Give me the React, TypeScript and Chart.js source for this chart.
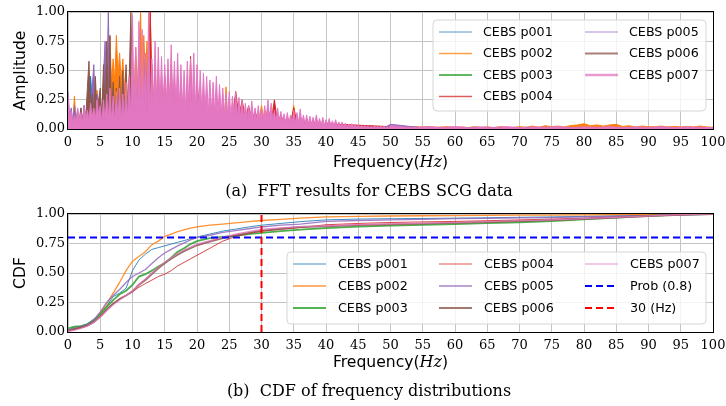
import React, { useEffect, useRef } from "react";
import { Chart, registerables } from "chart.js";
Chart.register(...registerables);

// ---------- shared ----------
const seriesLabels = ["CEBS p001", "CEBS p002", "CEBS p003", "CEBS p004", "CEBS p005", "CEBS p006", "CEBS p007"];
const seriesColors = ["#1f77b4", "#ff7f0e", "#2ca02c", "#d62728", "#9467bd", "#8c564b", "#e377c2"];
const xTicksStep = 5;
const yTicksStep = 0.25;

// ---------- FFT amplitudes (segments: start Hz, step Hz, values) ----------
const p001Head = [0.08,0.03,0.06,0.02,0.08,0.03,0.10,0.45,0.05,0.12, 0.04,0.10,0.04,0.08,0.03,0.06,0.02,0.05,0.02,0.06, 0.03,0.05,0.02,0.06,0.03,0.05,0.02,0.04,0.02,0.05, 0.02, 0.04,0.02,0.04,0.015,0.035,0.015,0.03,0.015,0.03,0.012, 0.03,0.012,0.025,0.01,0.025,0.01,0.02,0.01,0.02,0.01, 0.02,0.01,0.015,0.01,0.015,0.01,0.015,0.01,0.012,0.01];
const p001Tail = [0.01,0.008,0.01,0.008,0.01,0.008,0.01,0.008,0.01,0.008,0.01,0.008,0.01,0.008];

const p002Head = [
  0.10,0.04,0.12,0.05, 0.28,0.06,0.15,0.05, 0.12,0.05,0.18,0.06, 0.20,0.07,0.25,0.10, 0.22,0.08,0.33,0.12,
  0.25,0.12,0.40,0.20, 0.55,0.30,0.79,0.40, 0.60,0.40,0.80,0.45, 0.65,0.40,0.60,0.35, 0.50,0.25,0.45,0.30,
  0.60,0.30,0.70,0.35, 0.65,1.00,0.40,0.80, 0.45,0.75,0.35,1.00, 0.45,0.25,0.55,0.20, 0.50,0.20,0.45,0.18,
  0.42,0.18,0.38,0.15, 0.35,0.15,0.40,0.14, 0.30,0.12,0.35,0.12, 0.28,0.10,0.30,0.10, 0.32,0.10,0.25,0.10,
  0.25,0.08,0.28,0.08, 0.30,0.08,0.22,0.07, 0.20,0.07,0.25,0.07, 0.18,0.06,0.20,0.06, 0.15,0.06,0.36,0.06,
  0.15];
const p002Mid = [0.05,0.12,0.05,0.18,0.04,0.10,0.04,0.15,0.04,0.20, 0.04,0.10,0.03,0.12,0.03,0.08,0.03,0.10,0.03,0.20, 0.03,0.09,0.03,0.07,0.02,0.08,0.02,0.06,0.02,0.05];
const p002Tail = [0.04,0.02,0.035,0.02,0.03, 0.018,0.025,0.015,0.02,0.015, 0.015,0.02,0.012,0.018,0.015, 0.02,0.012,0.018,0.02,0.013, 0.018,0.012,0.02,0.013,0.018, 0.012,0.02,0.015,0.013,0.02, 0.015,0.025,0.015,0.028,0.02, 0.025,0.018,0.03,0.035,0.045, 0.028,0.035,0.025,0.035,0.04, 0.022,0.028,0.018,0.025,0.02, 0.02,0.025,0.018,0.022,0.018, 0.022,0.018,0.025,0.018,0.015];

const p003Head = [0.05,0.02,0.06,0.02,0.07,0.03,0.08,0.03,0.10,0.04, 0.10,0.04,0.12,0.04,0.10,0.04,0.09,0.03,0.08,0.03, 0.10,0.04,0.12,0.04,0.10,0.03,0.09,0.03,0.08,0.03, 0.07,0.03,0.06,0.02,0.06,0.02,0.05,0.02,0.05,0.02, 0.04,0.02,0.04,0.015,0.035,0.015,0.03,0.015,0.03,0.012, 0.025,0.012,0.025,0.01,0.02,0.01,0.02,0.01,0.02,0.01, 0.015];
const p003Tail = [0.01,0.008,0.01,0.008,0.01,0.008,0.01,0.008,0.01,0.008,0.01,0.008,0.01,0.008];

const p004Head = [
  0.05,0.02,0.06,0.02, 0.05,0.02,0.07,0.02, 0.06,0.02,0.08,0.03, 0.07,0.03,0.10,0.03, 0.08,0.03,0.10,0.04,
  0.10,0.04,0.12,0.04, 0.12,0.05,0.15,0.05, 0.10,0.04,0.12,0.05, 0.12,0.05,0.10,0.05, 0.14,0.05,0.12,0.06,
  0.25,0.08,0.30,0.10, 0.28,0.10,0.35,0.12, 0.40,0.15,0.50,1.00, 0.30,0.12,0.45,0.15, 0.40,0.15,0.35,0.15,
  0.45,0.15,0.50,0.20, 0.55,0.20,0.40,0.15, 0.35,0.12,0.40,0.15, 0.30,0.12,0.35,0.12, 0.62,0.15,0.30,0.12,
  0.40];
const p004Mid = [0.10,0.25,0.08,0.20,0.07,0.18,0.06,0.20,0.07,0.15, 0.08,0.32,0.10,0.25,0.08,0.20,0.07,0.15,0.06,0.12, 0.05,0.18,0.06,0.25,0.05,0.12,0.05,0.10,0.04,0.18, 0.04,0.10,0.04,0.08,0.03,0.07,0.03,0.06,0.03,0.05];
const p004Tail = [0.04,0.035,0.03,0.025,0.02,0.018,0.015,0.015,0.012,0.012, 0.01,0.012,0.01,0.012,0.01,0.01,0.012,0.01,0.01,0.012, 0.01,0.01,0.012,0.01,0.01,0.012,0.01,0.01,0.01,0.01];

const p005Head = [
  0.32,0.10,0.18,0.06, 0.20,0.07,0.16,0.06, 0.18,0.06,0.20,0.07, 0.15,0.30,0.12,0.35, 0.55,0.15,0.30,0.12,
  0.25,0.07,0.45,0.75, 0.30,1.00,0.25,0.08, 0.20,0.06,0.28,0.06, 0.22,0.06,0.25,0.06, 0.20,0.06,0.18,0.06,
  0.22,0.06,0.30,0.06, 0.20,0.06,0.25,0.06, 0.18,0.05,0.20,0.05, 0.15,0.05,0.18,0.05, 0.12,0.05,0.14,0.05,
  0.12];
const p005Mid = [0.10,0.06,0.09,0.05,0.08,0.05,0.07,0.05,0.06,0.04, 0.05,0.04,0.05,0.03,0.04,0.03,0.035,0.03,0.03,0.025, 0.025,0.02,0.02,0.02,0.018,0.015,0.015,0.015,0.012,0.012, 0.012,0.012,0.01,0.01,0.04];
const p005Tail = [0.01,0.012,0.01,0.012,0.01,0.01,0.012,0.01,0.01,0.01];

const p006Head = [
  0.15,0.05,0.10,0.04, 0.12,0.05,0.15,0.05, 0.18,0.06,0.20,0.08, 0.35,0.58,0.15,0.30, 0.12,0.45,0.10,0.25,
  0.35,0.08,0.55,0.10, 0.75,0.10,0.80,0.08, 0.40,0.07,0.35,0.08, 0.45,0.08,0.50,0.10, 0.55,0.10,0.45,1.00,
  0.35,0.10,0.45,0.10, 0.55,0.10,0.40,0.12, 0.60,0.12,0.70,0.12, 0.55,0.10,0.35,0.10, 0.30,0.10,0.25,0.10,
  0.30,0.10,0.22,0.08, 0.25,0.08,0.20,0.08, 0.18,0.07,0.22,0.07, 0.15,0.06,0.18,0.06, 0.15,0.05,0.12,0.05,
  0.12];
const p006Mid = [0.10,0.06,0.12,0.05,0.10,0.06,0.08,0.05,0.07,0.05, 0.06,0.04,0.05,0.04,0.05,0.03,0.04,0.03,0.035,0.03, 0.025,0.025,0.02,0.02,0.02,0.018,0.015,0.015,0.015,0.015];
const p006Tail = [0.012,0.01,0.012,0.01,0.012,0.01,0.012,0.01,0.012,0.01];

const p007Head = [
  0.30,0.08,0.15,0.05, 0.12,0.06,0.18,0.07, 0.14,0.05,0.20,0.08, 0.16,0.07,0.22,0.10, 0.18,0.08,0.25,0.12,
  0.20,0.05,0.25,0.06, 0.30,0.06,0.35,0.07, 0.28,0.05,0.32,0.06, 0.35,0.06,0.30,0.07, 0.40,0.07,0.45,0.08,
  0.97,0.10,0.70,0.12, 0.92,0.12,0.85,0.10, 0.65,0.12,1.00,0.15, 0.60,0.15,0.75,0.18, 0.70,0.20,0.62,0.18,
  0.55,0.18,0.60,0.20, 0.72,0.20,0.58,0.18, 0.65,0.16,0.55,0.18, 0.50,0.15,0.58,0.16, 0.60,0.18,0.65,0.16,
  0.55,0.15,0.50,0.14, 0.48,0.15,0.45,0.12, 0.42,0.15,0.40,0.13, 0.45,0.13,0.38,0.12, 0.35,0.11,0.30,0.11,
  0.32,0.11,0.28,0.10, 0.31,0.10,0.27,0.10, 0.25,0.09,0.22,0.08, 0.20,0.08,0.24,0.08, 0.18,0.07,0.20,0.07,
  0.17,0.07,0.20,0.08, 0.25,0.08,0.22,0.07, 0.16,0.06,0.18,0.06, 0.15,0.06,0.13,0.05, 0.14,0.05,0.12,0.05,
  0.16,0.05,0.14,0.05, 0.17,0.05,0.12,0.04, 0.12,0.04,0.11,0.04, 0.10,0.04,0.12,0.04, 0.09,0.03,0.10,0.03,
  0.08,0.03,0.09,0.03, 0.07,0.03,0.08,0.02, 0.06,0.02,0.06,0.02, 0.05,0.02,0.04,0.02, 0.045,0.02,0.04,0.015,
  0.035,0.015,0.03,0.015, 0.03,0.015,0.03,0.012, 0.025,0.012,0.03,0.012, 0.025,0.012,0.025,0.01, 0.025,0.01,0.02,0.01,
  0.03];
const p007Tail = [0.018,0.012,0.02,0.014,0.02,0.012,0.018,0.013,0.02,0.012,0.018,0.015,0.02,0.013,0.018,0.014,0.02,0.012,0.018,0.014,0.02,0.012,0.018,0.015,0.012];

const fftSegments: [number, number, number[]][][] = [
  [[0, 0.5, p001Head], [35, 5, p001Tail]],
  [[0, 0.25, p002Head], [25.5, 0.5, p002Mid], [41, 1, p002Tail]],
  [[0, 0.5, p003Head], [35, 5, p003Tail]],
  [[0, 0.25, p004Head], [20.5, 0.5, p004Mid], [42, 2, p004Tail]],
  [[0, 0.25, p005Head], [16, 1, p005Mid], [55, 5, p005Tail]],
  [[0, 0.25, p006Head], [21, 1, p006Mid], [55, 5, p006Tail]],
  [[0, 0.25, p007Head], [52, 2, p007Tail]],
];

// ---------- CDF ----------
const cdfFreq = [0,1,2,3,4,5,6,7,8,9,10,11,12,13,14,15,16,17,18,19,20,22,24,26,28,30,33,36,40,45,50,55,60,65,70,75,80,85,90,95,100];
const cdfP001 = [0.02,0.04,0.05,0.07,0.11,0.16,0.22,0.30,0.33,0.37,0.52,0.61,0.66,0.70,0.715,0.73,0.745,0.76,0.775,0.79,0.805, 0.83,0.855,0.872,0.89,0.905, 0.92,0.935,0.95, 0.957,0.96,0.962,0.965,0.968,0.972,0.975,0.98,0.985,0.99,0.995,1.0];
const cdfP002 = [0.01,0.03,0.04,0.06,0.10,0.16,0.24,0.33,0.42,0.52,0.60,0.64,0.68,0.74,0.77,0.81,0.83,0.85,0.865,0.88,0.89, 0.905,0.915,0.925,0.935,0.945, 0.955,0.965,0.975, 0.98,0.983,0.985,0.987,0.988,0.99,0.991,0.993,0.995,0.997,0.999,1.0];
const cdfP003 = [0.03,0.045,0.05,0.065,0.10,0.15,0.21,0.27,0.32,0.35,0.40,0.47,0.49,0.52,0.555,0.585,0.63,0.68,0.71,0.745,0.77, 0.795,0.805,0.815,0.83,0.84, 0.855,0.867,0.881, 0.893,0.902,0.908,0.915,0.922,0.93,0.94,0.955,0.97,0.985,0.995,1.0];
const cdfP004 = [0.01,0.02,0.035,0.05,0.08,0.13,0.19,0.24,0.28,0.31,0.34,0.38,0.41,0.44,0.47,0.49,0.52,0.56,0.59,0.62,0.65, 0.71,0.77,0.81,0.835,0.853, 0.87,0.885,0.909, 0.92,0.928,0.933,0.937,0.943,0.95,0.957,0.965,0.975,0.985,0.994,1.0];
const cdfP005 = [0.02,0.03,0.045,0.06,0.10,0.17,0.25,0.31,0.36,0.42,0.47,0.50,0.53,0.58,0.63,0.67,0.70,0.73,0.755,0.78,0.80, 0.82,0.845,0.86,0.875,0.89, 0.905,0.915,0.937, 0.945,0.95,0.955,0.96,0.963,0.967,0.97,0.975,0.98,0.985,0.993,1.0];
const cdfP006 = [0.01,0.025,0.04,0.055,0.085,0.13,0.19,0.24,0.28,0.31,0.345,0.40,0.44,0.49,0.54,0.585,0.62,0.655,0.685,0.71,0.735, 0.765,0.795,0.82,0.84,0.86, 0.875,0.89,0.895, 0.905,0.912,0.918,0.925,0.932,0.94,0.948,0.958,0.97,0.983,0.993,1.0];
const cdfP007 = [0.005,0.015,0.03,0.05,0.08,0.125,0.18,0.23,0.27,0.31,0.35,0.405,0.45,0.50,0.55,0.59,0.63,0.665,0.695,0.72,0.745, 0.775,0.805,0.83,0.85,0.87, 0.882,0.893,0.90, 0.91,0.917,0.922,0.928,0.935,0.943,0.95,0.96,0.972,0.984,0.994,1.0];
const cdfSeries = [cdfP001, cdfP002, cdfP003, cdfP004, cdfP005, cdfP006, cdfP007];
const probLevel = 0.8;
const cutoffHz = 30;
const refLabels = ["Prob (0.8)", "30 (Hz)"];

// ---------- helpers ----------
const seg = (start: number, step: number, vals: number[]) =>
  vals.map((y, i) => ({ x: +(start + i * step).toFixed(3), y }));

const tickFont = { family: "DejaVu Serif", size: 13 };
const gridColor = "#c4c4c4";

function hexA(hex: string, a: number) {
  const n = parseInt(hex.slice(1), 16);
  return `rgba(${(n >> 16) & 255},${(n >> 8) & 255},${n & 255},${a})`;
}

const decorPlugin = {
  id: "decor",
  afterDraw(chart: any, _args: any, opts: any) {
    const { ctx, chartArea: a } = chart;
    ctx.save();
    // frame
    ctx.strokeStyle = "#000";
    ctx.lineWidth = 1;
    ctx.strokeRect(Math.round(a.left) - 0.5, Math.round(a.top) - 0.5, Math.round(a.right - a.left) + 1, Math.round(a.bottom - a.top) + 1);
    // x title: Frequency(Hz)
    const sans = '15.6px "DejaVu Sans"';
    const ital = 'italic 16px "DejaVu Serif"';
    ctx.fillStyle = "#000";
    ctx.textBaseline = "middle";
    ctx.textAlign = "left";
    ctx.font = sans;
    const w1 = ctx.measureText("Frequency(").width;
    const w3 = ctx.measureText(")").width;
    ctx.font = ital;
    const w2 = ctx.measureText("Hz").width;
    let x = (a.left + a.right) / 2 - (w1 + w2 + w3) / 2;
    const y = opts.xTitleY;
    ctx.font = sans; ctx.fillText("Frequency(", x, y); x += w1;
    ctx.font = ital; ctx.fillText("Hz", x, y); x += w2;
    ctx.font = sans; ctx.fillText(")", x, y);
    // legend
    const L = opts.legend;
    const bx = L.x, by = L.y, bw = L.w, bh = L.h, r = 4;
    ctx.beginPath();
    ctx.moveTo(bx + r, by);
    ctx.arcTo(bx + bw, by, bx + bw, by + bh, r);
    ctx.arcTo(bx + bw, by + bh, bx, by + bh, r);
    ctx.arcTo(bx, by + bh, bx, by, r);
    ctx.arcTo(bx, by, bx + bw, by, r);
    ctx.closePath();
    ctx.fillStyle = "rgba(255,255,255,0.8)";
    ctx.fill();
    ctx.strokeStyle = "#d6d6d6";
    ctx.lineWidth = 1;
    ctx.stroke();
    ctx.font = '12.7px "DejaVu Sans"';
    chart.data.datasets.forEach((ds: any, i: number) => {
      const col = Math.floor(i / L.rows);
      const row = i % L.rows;
      const lx = bx + L.colX[col];
      const ly = by + L.rowY[row];
      ctx.beginPath();
      ctx.setLineDash(ds.borderDash || []);
      ctx.strokeStyle = L.alpha < 1 && !ds.borderDash ? hexA(ds.legendColor, L.alpha) : ds.legendColor;
      ctx.lineWidth = ds.legendWidth;
      ctx.moveTo(lx, ly);
      ctx.lineTo(lx + L.lineLen, ly);
      ctx.stroke();
      ctx.setLineDash([]);
      ctx.fillStyle = "#000";
      ctx.fillText(ds.label, lx + L.textOff, ly + 0.5);
    });
    ctx.restore();
  },
};

function scalesFor(yTitle: string, xAxisHeight: number) {
  return {
    x: {
      type: "linear",
      min: 0,
      max: 100,
      ticks: { stepSize: xTicksStep, font: tickFont, color: "#000", padding: 6, maxRotation: 0, autoSkip: false },
      grid: { color: gridColor, lineWidth: 1, drawTicks: false },
      border: { display: false },
      afterFit: (s: any) => { s.height = xAxisHeight; s.paddingRight = 0; s.paddingLeft = 0; },
    },
    y: {
      min: 0,
      max: 1,
      ticks: { stepSize: yTicksStep, font: tickFont, color: "#000", padding: 3, callback: (v: any) => Number(v).toFixed(2) },
      grid: { color: gridColor, lineWidth: 1, drawTicks: false },
      border: { display: false },
      title: { display: true, text: yTitle, color: "#000", font: { family: "DejaVu Sans", size: 15.6 }, padding: { top: 12, bottom: 0 } },
      afterFit: (s: any) => { s.width = 68; s.paddingTop = 0; s.paddingBottom = 0; },
    },
  };
}

const fftLegendWidths = [1, 1.5, 2, 1.5, 1, 2, 2.5];
const cdfWidths = [1, 1.3, 1.8, 1, 1.3, 1.8, 1.2];

function fftConfig(): any {
  const datasets = fftSegments.map((segs, i) => ({
    label: seriesLabels[i],
    data: segs.flatMap(([s, st, v]) => seg(s, st, v)),
    borderColor: seriesColors[i],
    backgroundColor: seriesColors[i],
    legendColor: seriesColors[i],
    legendWidth: fftLegendWidths[i],
    borderWidth: 1,
    pointRadius: 0,
    tension: 0,
    fill: "origin",
    order: 7 - i,
  }));
  return {
    type: "line",
    data: { datasets },
    options: {
      responsive: false,
      animation: false,
      events: [],
      layout: { padding: { top: 12, right: 13, left: 0, bottom: 0 } },
      scales: scalesFor("Amplitude", 71),
      plugins: {
        legend: { display: false },
        tooltip: { enabled: false },
        decor: {
          xTitleY: 163,
          legend: { x: 433, y: 20, w: 273, h: 91, rows: 4, colX: [6, 152], rowY: [12, 33.5, 55, 76.5], lineLen: 33, textOff: 44, alpha: 0.75 },
        },
      },
    },
    plugins: [decorPlugin],
  };
}

function cdfConfig(): any {
  const datasets: any[] = cdfSeries.map((vals, i) => ({
    label: seriesLabels[i],
    data: vals.map((y, k) => ({ x: cdfFreq[k], y })),
    borderColor: hexA(seriesColors[i], 0.85),
    legendColor: seriesColors[i],
    legendWidth: cdfWidths[i],
    borderWidth: cdfWidths[i],
    pointRadius: 0,
    tension: 0,
    fill: false,
    order: 8 - i,
  }));
  datasets.push({
    label: refLabels[0],
    data: [{ x: 0, y: probLevel }, { x: 100, y: probLevel }],
    borderColor: "#0000ff",
    legendColor: "#0000ff",
    legendWidth: 2,
    borderWidth: 2,
    borderDash: [7, 4],
    pointRadius: 0,
    order: 1,
  });
  datasets.push({
    label: refLabels[1],
    data: [{ x: cutoffHz, y: 0 }, { x: cutoffHz, y: 1 }],
    borderColor: "#ff0000",
    legendColor: "#ff0000",
    legendWidth: 2,
    borderWidth: 2,
    borderDash: [7, 4],
    pointRadius: 0,
    order: 0,
  });
  return {
    type: "line",
    data: { datasets },
    options: {
      responsive: false,
      animation: false,
      events: [],
      layout: { padding: { top: 14, right: 13, left: 0, bottom: 0 } },
      scales: scalesFor("CDF", 74),
      plugins: {
        legend: { display: false },
        tooltip: { enabled: false },
        decor: {
          xTitleY: 163,
          legend: { x: 287, y: 52, w: 419, h: 72, rows: 3, colX: [6, 152, 298], rowY: [12, 34, 56], lineLen: 33, textOff: 45, alpha: 0.8 },
        },
      },
    },
    plugins: [decorPlugin],
  };
}

const captionStyle = (cy: number): React.CSSProperties => ({
  position: "absolute",
  top: cy - 10,
  left: 369,
  transform: "translateX(-50%)",
  fontFamily: "DejaVu Serif",
  fontSize: 16,
  lineHeight: "20px",
  whiteSpace: "nowrap",
  color: "#000",
});

export default function App() {
  const c1 = useRef<HTMLCanvasElement>(null);
  const c2 = useRef<HTMLCanvasElement>(null);
  useEffect(() => {
    const ch1 = new Chart(c1.current as HTMLCanvasElement, fftConfig());
    const ch2 = new Chart(c2.current as HTMLCanvasElement, cdfConfig());
    return () => {
      ch1.destroy();
      ch2.destroy();
    };
  }, []);
  return (
    <div style={{ position: "absolute", left: 0, top: 0, width: 726, height: 406, background: "#fff", overflow: "hidden" }}>
      <canvas ref={c1} width={726} height={200} style={{ position: "absolute", left: 0, top: 0 }} />
      <canvas ref={c2} width={726} height={206} style={{ position: "absolute", left: 0, top: 200 }} />
      <div style={captionStyle(191)}>(a)&nbsp;&nbsp;FFT results for CEBS SCG data</div>
      <div style={captionStyle(391)}>(b)&nbsp;&nbsp;CDF of frequency distributions</div>
    </div>
  );
}
